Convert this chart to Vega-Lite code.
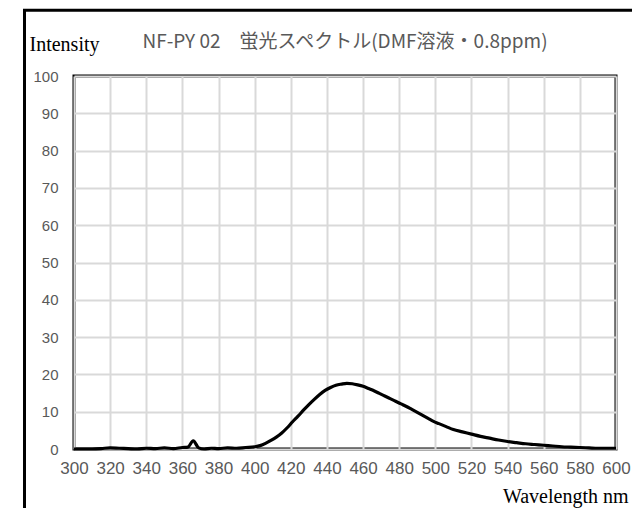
{
  "$schema": "https://vega.github.io/schema/vega-lite/v6.json",
  "width": 542,
  "height": 373,
  "autosize": {"type": "none"},
  "padding": {"left": 74, "top": 76, "right": 16, "bottom": 59},
  "background": "white",
  "title": {
    "text": "NF-PY 02　蛍光スペクトル(DMF溶液・0.8ppm)",
    "anchor": "middle",
    "frame": "group",
    "font": "Noto Sans CJK JP",
    "fontSize": 19,
    "fontWeight": "normal",
    "color": "#595959",
    "baseline": "alphabetic",
    "offset": 0,
    "dy": 58
  },
  "config": {
    "view": {"stroke": "black", "strokeWidth": 3},
    "axis": {
      "labelFont": "Liberation Sans",
      "labelColor": "#595959",
      "gridColor": "#d9d9d9",
      "gridWidth": 2,
      "ticks": false,
      "domain": false,
      "labelOverlap": false,
      "labelFlush": false,
      "labelBound": false
    },
    "axisX": {"labelFontSize": 17, "labelPadding": 11},
    "axisY": {"labelFontSize": 15, "labelPadding": 16}
  },
  "datasets": {
    "spectrum": [
      {"nm": 300, "v": 0}, {"nm": 305, "v": 0.0}, {"nm": 310, "v": 0}, {"nm": 315, "v": 0.1},
      {"nm": 320, "v": 0.3}, {"nm": 325, "v": 0.2}, {"nm": 330, "v": 0.1}, {"nm": 335, "v": 0},
      {"nm": 340, "v": 0.2}, {"nm": 345, "v": 0.1}, {"nm": 350, "v": 0.3}, {"nm": 355, "v": 0.1},
      {"nm": 360, "v": 0.4}, {"nm": 363, "v": 0.5}, {"nm": 366, "v": 2.2}, {"nm": 369, "v": 0.3},
      {"nm": 372, "v": 0}, {"nm": 376, "v": 0.2}, {"nm": 380, "v": 0.1}, {"nm": 385, "v": 0.3},
      {"nm": 390, "v": 0.2}, {"nm": 395, "v": 0.4}, {"nm": 400, "v": 0.6}, {"nm": 403, "v": 0.9},
      {"nm": 406, "v": 1.5}, {"nm": 409, "v": 2.3}, {"nm": 412, "v": 3.2}, {"nm": 415, "v": 4.3},
      {"nm": 418, "v": 5.7}, {"nm": 421, "v": 7.3}, {"nm": 424, "v": 8.8}, {"nm": 427, "v": 10.4},
      {"nm": 430, "v": 11.9}, {"nm": 433, "v": 13.3}, {"nm": 436, "v": 14.6}, {"nm": 439, "v": 15.7},
      {"nm": 442, "v": 16.5}, {"nm": 445, "v": 17.1}, {"nm": 448, "v": 17.4}, {"nm": 451, "v": 17.6},
      {"nm": 454, "v": 17.5}, {"nm": 457, "v": 17.2}, {"nm": 460, "v": 16.8}, {"nm": 463, "v": 16.2},
      {"nm": 466, "v": 15.6}, {"nm": 469, "v": 14.9}, {"nm": 472, "v": 14.2}, {"nm": 475, "v": 13.5},
      {"nm": 478, "v": 12.8}, {"nm": 481, "v": 12.1}, {"nm": 484, "v": 11.4}, {"nm": 487, "v": 10.6},
      {"nm": 490, "v": 9.8}, {"nm": 493, "v": 9.0}, {"nm": 496, "v": 8.2}, {"nm": 499, "v": 7.4},
      {"nm": 502, "v": 6.8}, {"nm": 506, "v": 6.0}, {"nm": 510, "v": 5.2}, {"nm": 515, "v": 4.6},
      {"nm": 520, "v": 4.0}, {"nm": 525, "v": 3.4}, {"nm": 530, "v": 2.9}, {"nm": 535, "v": 2.4},
      {"nm": 540, "v": 2.0}, {"nm": 545, "v": 1.7}, {"nm": 550, "v": 1.4}, {"nm": 555, "v": 1.2},
      {"nm": 560, "v": 1.0}, {"nm": 565, "v": 0.8}, {"nm": 570, "v": 0.6}, {"nm": 575, "v": 0.5},
      {"nm": 580, "v": 0.4}, {"nm": 585, "v": 0.3}, {"nm": 590, "v": 0.2}, {"nm": 595, "v": 0.2},
      {"nm": 600, "v": 0.2}
    ],
    "frame": [
      {"x1": 272.6, "x2": 700, "y1": 117.6, "y2": -40}
    ]
  },
  "layer": [
    {
      "data": {"name": "spectrum"},
      "mark": {"type": "line", "color": "black", "strokeWidth": 3.2, "strokeJoin": "round", "interpolate": "monotone"},
      "encoding": {
        "x": {
          "field": "nm", "type": "quantitative",
          "scale": {"domain": [300, 600], "nice": false, "zero": false},
          "axis": {
            "values": [300, 320, 340, 360, 380, 400, 420, 440, 460, 480, 500, 520, 540, 560, 580, 600],
            "labelFontSize": 17,
            "labelFlush": false,
            "title": "Wavelength nm",
            "titleFont": "Liberation Serif",
            "titleFontSize": 20,
            "titleFontWeight": "normal",
            "titleColor": "black",
            "titleX": 554,
            "titleY": 53,
            "titleAlign": "right",
            "titleAnchor": "end",
            "titleBaseline": "alphabetic"
          }
        },
        "y": {
          "field": "v", "type": "quantitative",
          "scale": {"domain": [0, 100]},
          "axis": {
            "values": [0, 10, 20, 30, 40, 50, 60, 70, 80, 90, 100],
            "labelFontSize": 15,
            "title": "Intensity",
            "titleFont": "Liberation Serif",
            "titleFontSize": 20,
            "titleFontWeight": "normal",
            "titleColor": "black",
            "titleAngle": 0,
            "titleX": -45,
            "titleY": -26,
            "titleAlign": "left",
            "titleBaseline": "alphabetic"
          }
        }
      }
    },
    {
      "data": {"name": "frame"},
      "mark": {"type": "rect", "fill": null, "stroke": "black", "strokeWidth": 3, "clip": false},
      "encoding": {
        "x": {
          "field": "x1", "type": "quantitative",
          "axis": {
            "values": [300, 320, 340, 360, 380, 400, 420, 440, 460, 480, 500, 520, 540, 560, 580, 600],
            "labelFontSize": 17,
            "labelFlush": false,
            "title": "Wavelength nm",
            "titleFont": "Liberation Serif",
            "titleFontSize": 20,
            "titleFontWeight": "normal",
            "titleColor": "black",
            "titleX": 554,
            "titleY": 53,
            "titleAlign": "right",
            "titleAnchor": "end",
            "titleBaseline": "alphabetic"
          }
        },
        "x2": {"field": "x2"},
        "y": {
          "field": "y1", "type": "quantitative",
          "axis": {
            "values": [0, 10, 20, 30, 40, 50, 60, 70, 80, 90, 100],
            "labelFontSize": 15,
            "title": "Intensity",
            "titleFont": "Liberation Serif",
            "titleFontSize": 20,
            "titleFontWeight": "normal",
            "titleColor": "black",
            "titleAngle": 0,
            "titleX": -45,
            "titleY": -26,
            "titleAlign": "left",
            "titleBaseline": "alphabetic"
          }
        },
        "y2": {"field": "y2"}
      }
    }
  ]
}
